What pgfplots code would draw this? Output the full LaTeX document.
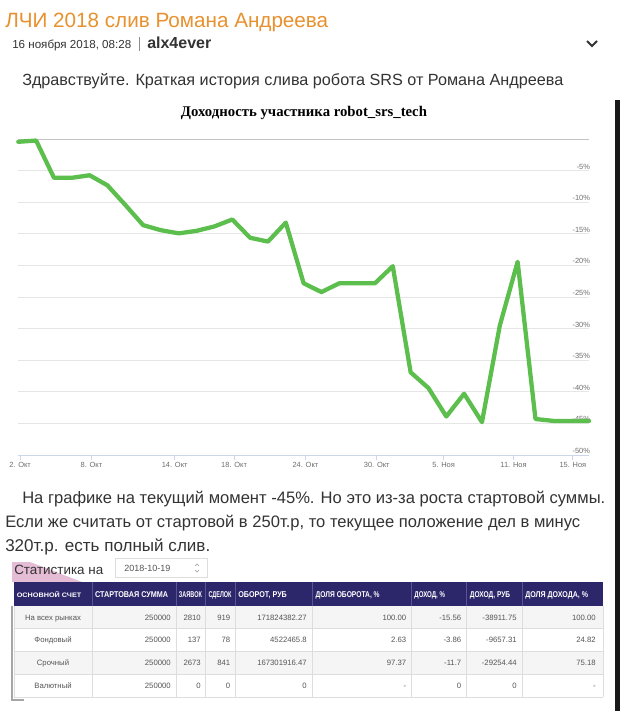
\documentclass[border=0pt]{standalone}
\usepackage{fontspec}
\setmainfont{Liberation Sans}
\newfontfamily\timesf{Liberation Serif}
\usepackage{graphicx}
\usepackage{pgfplots}
\pgfplotsset{compat=1.18}
\definecolor{titleor}{RGB}{232,145,46}
\definecolor{textc}{RGB}{51,51,51}
\definecolor{lineg}{RGB}{92,190,76}
\definecolor{gridc}{RGB}{230,230,230}
\definecolor{zeroc}{RGB}{195,195,195}
\definecolor{axisc}{RGB}{204,214,235}
\definecolor{labelc}{RGB}{110,110,110}
\definecolor{hdr}{RGB}{44,38,106}
\definecolor{hdrsep}{RGB}{90,84,150}
\definecolor{rowsh}{RGB}{245,245,245}
\definecolor{tbl}{RGB}{221,221,221}
\definecolor{celltx}{RGB}{85,85,85}
\definecolor{pinkdec}{RGB}{228,188,214}

\pgfplotstableread{
idx val
0 -0.4
1 -0.2
2 -6.1
3 -6.1
4 -5.7
5 -7.3
6 -10.4
7 -13.6
8 -14.4
9 -14.9
10 -14.5
11 -13.8
12 -12.7
13 -15.6
14 -16.2
15 -13.2
16 -22.8
17 -24.2
18 -22.8
19 -22.8
20 -22.8
21 -20.1
22 -36.9
23 -39.4
24 -43.9
25 -40.3
26 -44.8
27 -29.5
28 -19.4
29 -44.3
30 -44.6
31 -44.6
32 -44.6
}\datatable

\newcommand\hd[3]{\node[anchor=base west,inner sep=0pt,text=white] at (#1,597) {\resizebox{#2}{4.4pt}{\bfseries #3}};}
\newcommand\cl[3]{\node[anchor=base east,inner sep=0pt,text=celltx,font=\fontsize{5.8}{7}\selectfont] at (#1,#2) {#3};}
\newcommand\cc[2]{\node[anchor=base,inner sep=0pt,text=celltx,font=\fontsize{5.8}{7}\selectfont] at (53,#1) {#2};}

\begin{document}
\begin{tikzpicture}
\fill[white] (0,0) rectangle (464.25pt,-533.25pt);
\path[use as bounding box] (0,0) rectangle (464.25pt,-533.25pt);
\begin{scope}[x=0.75pt,y=-0.75pt]
% right dark strip
\fill[black!90] (614.5,100) rectangle (619.5,712);
% header texts
\node[anchor=base west,inner sep=0pt,text=titleor] at (5,27) {\resizebox{242.25pt}{!}{\fontsize{15}{18}\selectfont ЛЧИ 2018 слив Романа Андреева}};
\node[anchor=base west,inner sep=0pt,text=textc] at (12,48) {\resizebox{89.25pt}{!}{\fontsize{8}{10}\selectfont 16 ноября 2018, 08:28}};
\draw[black!45, line width=0.75pt] (139,37) -- (139,51);
\node[anchor=base west,inner sep=0pt,text=textc] at (147,48) {\resizebox{48pt}{!}{\fontsize{10}{12}\selectfont\bfseries alx4ever}};
\draw[textc, line width=1.4pt] (587,41) -- (592,46) -- (597,41);
\node[anchor=base west,inner sep=0pt,text=textc] at (22,85) {\resizebox{405.75pt}{!}{\fontsize{12}{14}\selectfont Здравствуйте. Краткая история слива робота SRS от Романа Андреева}};
\node[anchor=base,inner sep=0pt,text=black] at (304,116) {\resizebox{184.5pt}{!}{\fontsize{11}{13}\selectfont\timesf\bfseries Доходность участника robot\_srs\_tech}};
% paragraph
\node[anchor=base west,inner sep=0pt,text=textc] at (22,503) {\resizebox{437.25pt}{!}{\fontsize{12.5}{15}\selectfont На графике на текущий момент -45\%. Но это из-за роста стартовой суммы.}};
\node[anchor=base west,inner sep=0pt,text=textc] at (5,527) {\resizebox{431.25pt}{!}{\fontsize{12.5}{15}\selectfont Если же считать от стартовой в 250т.р, то текущее положение дел в минус}};
\node[anchor=base west,inner sep=0pt,text=textc] at (5,551) {\resizebox{153.75pt}{!}{\fontsize{12.5}{15}\selectfont 320т.р. есть полный слив.}};
% statistics header
\fill[pinkdec] (12,562) -- (30,562) -- (82,582) -- (12,582) -- cycle;
\node[anchor=base west,inner sep=0pt,text=textc] at (14,574) {\resizebox{66.75pt}{!}{\fontsize{12}{14}\selectfont Статистика на}};
\draw[tbl, line width=0.75pt] (115,558) rectangle (207,577);
\node[anchor=base west,inner sep=0pt,text=celltx] at (124,571) {\resizebox{34.5pt}{!}{\fontsize{6}{7}\selectfont 2018-10-19}};
\draw[black!40, line width=0.5pt] (195,566) -- (197,564) -- (199,566);
\draw[black!40, line width=0.5pt] (195,570) -- (197,572) -- (199,570);
% table
\fill[hdr] (14,582) rectangle (603,606);
\fill[rowsh] (14,606) rectangle (603,628.75);
\fill[rowsh] (14,651.5) rectangle (603,674.25);
\foreach \xx in {92,176,205.5,235,312,411,466,522} {
  \draw[hdrsep, line width=0.6pt] (\xx,582) -- (\xx,606);
  \draw[tbl, line width=0.6pt] (\xx,606) -- (\xx,697);
}
\foreach \yy in {628.75,651.5,674.25,697} {
  \draw[tbl, line width=0.6pt] (14,\yy) -- (603,\yy);
}
\draw[tbl, line width=0.6pt] (603,606) -- (603,697);
\draw[tbl, line width=0.6pt] (14,606) -- (14,697);
\draw[black!35, line width=0.8pt] (12,606) -- (12,700) -- (24,700);
\hd{16.6}{48.3pt}{ОСНОВНОЙ СЧЕТ}
\hd{94.9}{54.75pt}{СТАРТОВАЯ СУММА}
\hd{178.7}{17.25pt}{ЗАЯВОК}
\hd{208.3}{17.25pt}{СДЕЛОК}
\hd{238}{36.45pt}{ОБОРОТ, РУБ}
\hd{315.4}{48pt}{ДОЛЯ ОБОРОТА, \%}
\hd{414.2}{22.9pt}{ДОХОД, \%}
\hd{469.6}{30.2pt}{ДОХОД, РУБ}
\hd{525}{47.1pt}{ДОЛЯ ДОХОДА, \%}
% rows
\cc{620}{На всех рынках}
\cl{171}{620}{250000}\cl{201}{620}{2810}\cl{230.5}{620}{919}\cl{307}{620}{171824382.27}\cl{406.5}{620}{100.00}\cl{461.5}{620}{-15.56}\cl{517}{620}{-38911.75}\cl{596}{620}{100.00}
\cc{642.5}{Фондовый}
\cl{171}{642.5}{250000}\cl{201}{642.5}{137}\cl{230.5}{642.5}{78}\cl{307}{642.5}{4522465.8}\cl{406.5}{642.5}{2.63}\cl{461.5}{642.5}{-3.86}\cl{517}{642.5}{-9657.31}\cl{596}{642.5}{24.82}
\cc{665.5}{Срочный}
\cl{171}{665.5}{250000}\cl{201}{665.5}{2673}\cl{230.5}{665.5}{841}\cl{307}{665.5}{167301916.47}\cl{406.5}{665.5}{97.37}\cl{461.5}{665.5}{-11.7}\cl{517}{665.5}{-29254.44}\cl{596}{665.5}{75.18}
\cc{688}{Валютный}
\cl{171}{688}{250000}\cl{201}{688}{0}\cl{230.5}{688}{0}\cl{307}{688}{0}\cl{406.5}{688}{-}\cl{461.5}{688}{0}\cl{517}{688}{0}\cl{596}{688}{-}
\end{scope}

\begin{axis}[
  at={(13.725pt,-341.25pt)}, anchor=south west,
  scale only axis, width=428.0pt, height=236.8pt,
  xmin=0, xmax=32, ymin=-50, ymax=0,
  axis x line*=bottom, axis y line*=right,
  axis line style={-},
  x axis line style={draw=axisc, line width=0.75pt},
  y axis line style={draw=none},
  ytick={-50,-45,-40,-35,-30,-25,-20,-15,-10,-5},
  yticklabels={-50\%,-45\%,-40\%,-35\%,-30\%,-25\%,-20\%,-15\%,-10\%,-5\%},
  ymajorgrids, grid style={draw=gridc, line width=0.75pt},
  ytick style={draw=none},
  yticklabel style={anchor=south east, inner sep=1pt, xshift=-1.5pt, font=\fontsize{5.6}{6.5}\selectfont, text=labelc},
  xtick={0.1,4.1,8.77,12.1,16.1,20.1,23.85,27.77,31.1},
  xticklabels={2. Окт, 8. Окт, 14. Окт, 18. Окт, 24. Окт, 30. Окт, 5. Ноя, 11. Ноя, 15. Ноя},
  xtick style={draw=axisc, line width=0.75pt},
  tick align=outside, major tick length=3.5pt,
  xticklabel style={font=\fontsize{5.6}{6.5}\selectfont, text=labelc, inner sep=1pt, yshift=-1pt},
  extra y ticks={0}, extra y tick labels={},
  extra y tick style={grid style={draw=zeroc, line width=0.75pt}},
  clip=false,
]
\addplot[draw=lineg, line width=3.2pt, line join=round, line cap=round, no markers] table[x=idx,y=val] {\datatable};
\end{axis}
\end{tikzpicture}
\end{document}
